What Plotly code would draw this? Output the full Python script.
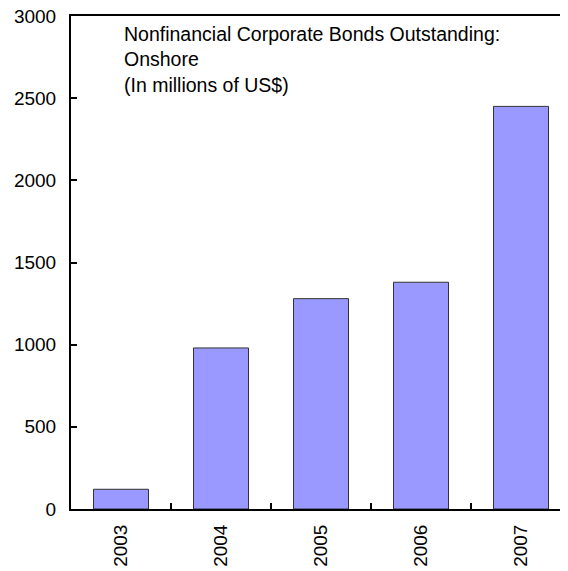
import plotly.graph_objects as go

years = ["2003", "2004", "2005", "2006", "2007"]
bonds = [120, 980, 1280, 1380, 2450]
y_ticks = [0, 500, 1000, 1500, 2000, 2500, 3000]

FONT = "Liberation Sans, Arial, sans-serif"

fig = go.Figure(
    go.Bar(
        x=years,
        y=bonds,
        width=0.55,
        marker=dict(color="#9999FF", line=dict(color="#333333", width=1)),
    )
)

fig.update_layout(
    width=560,
    height=563,
    margin=dict(l=63, r=0, t=8, b=62),
    paper_bgcolor="white",
    plot_bgcolor="white",
    showlegend=False,
    font=dict(family=FONT, size=19, color="black"),
    bargap=0.45,
)

fig.update_xaxes(
    type="category",
    range=[-0.5, 4.47],
    showline=True,
    linecolor="black",
    linewidth=2,
    mirror=True,
    ticks="inside",
    tickson="boundaries",
    ticklen=6,
    tickwidth=2,
    tickcolor="black",
    tickangle=-90,
    ticklabelstandoff=6,
    automargin=False,
    tickfont=dict(family=FONT, size=19, color="black"),
    showgrid=False,
    zeroline=False,
)

fig.update_yaxes(
    range=[0, 3000],
    tickvals=y_ticks,
    showline=True,
    linecolor="black",
    linewidth=2,
    ticks="inside",
    ticklen=6,
    tickwidth=2,
    tickcolor="black",
    ticklabelstandoff=9,
    ticklabeloverflow="allow",
    automargin=False,
    tickfont=dict(family=FONT, size=19, color="black"),
    showgrid=False,
    zeroline=False,
)

fig.add_annotation(
    text="Nonfinancial Corporate Bonds Outstanding:<br>Onshore<br>(In millions of US$)",
    xref="paper",
    yref="paper",
    x=0.1026,
    y=0.990,
    xanchor="left",
    yanchor="top",
    align="left",
    showarrow=False,
    font=dict(family=FONT, size=19.5, color="black"),
)

fig.write_html("out.html")
